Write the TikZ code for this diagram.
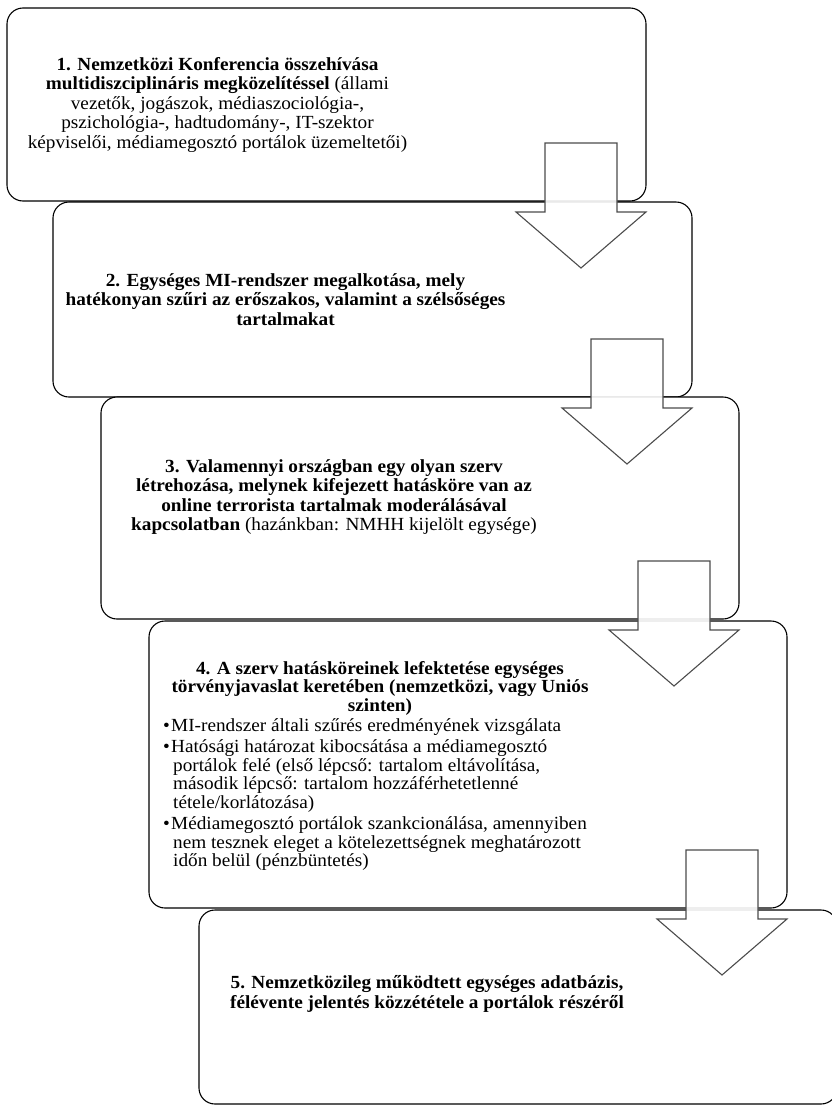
\documentclass[tikz,border=0pt]{standalone}
\usepackage{fontspec}
\setmainfont{Liberation Serif}[FakeStretch=1.04]

% bullet and hanging indent for the list in step 4
\newcommand{\bul}{\makebox[8pt][l]{\textbullet}}
\newcommand{\cont}{\hspace*{10pt}}
% big hollow down arrow hanging from the lower right corner of a step
\newcommand{\blockarrow}[1]{%
  \draw[downarrow] (#1.south east) ++(-29,-58) -- ++(0,69) -- ++(29,0)
    -- ++(-65,56) -- ++(-65,-56) -- ++(29,0) -- ++(0,-69) -- cycle;}

\begin{document}
\begin{tikzpicture}[x=1pt,y=-1pt,font=\fontsize{18.5}{19.5}\selectfont,
  stepbox/.style={draw=black,line width=1.1pt,rounded corners=16pt,fill=white,
    inner sep=0pt,outer sep=0pt,anchor=north west},
  steptext/.style={align=center,inner sep=0pt},
  downarrow/.style={draw=black!70,line width=1.1pt,fill=white,fill opacity=0.9}]

\clip (0,0) rectangle (832,1106);
\fill[white] (0,0) rectangle (832,1106);

    \node[stepbox,minimum width=639pt,minimum height=193pt] (b1) at (7,8) {};
    \node[stepbox,minimum width=639pt,minimum height=195pt,xshift=46pt,yshift=-1pt] (b2) at (b1.south west) {};
    \node[stepbox,minimum width=638pt,minimum height=222pt,xshift=48pt] (b3) at (b2.south west) {};
    \node[stepbox,minimum width=638pt,minimum height=287pt,xshift=48pt,yshift=-2pt] (b4) at (b3.south west) {};
    \node[stepbox,minimum width=638pt,minimum height=194pt,xshift=50pt,yshift=-2pt] (b5) at (b4.south west) {};

    \node[steptext,xshift=-109pt] (t1) at (b1.center)
      {\textbf{1. Nemzetközi Konferencia összehívása}\\
       \textbf{multidiszciplináris megközelítéssel} (állami\\
       vezetők, jogászok, médiaszociológia-,\\
       pszichológia-, hadtudomány-, IT-szektor\\
       képviselői, médiamegosztó portálok üzemeltetői)};
    \node[steptext,xshift=-87pt] (t2) at (b2.center)
      {\textbf{2. Egységes MI-rendszer megalkotása, mely}\\
       \textbf{hatékonyan szűri az erőszakos, valamint a szélsőséges}\\
       \textbf{tartalmakat}};
    \node[steptext,xshift=-86pt,yshift=11pt] (t3) at (b3.center)
      {\textbf{3. Valamennyi országban egy olyan szerv}\\
       \textbf{létrehozása, melynek kifejezett hatásköre van az}\\
       \textbf{online terrorista tartalmak moderálásával}\\
       \textbf{kapcsolatban} (hazánkban: NMHH kijelölt egysége)};
    \node[steptext,anchor=north,xshift=-88pt,yshift=-40pt,
          font=\fontsize{18.5}{18.5}\selectfont] (t4) at (b4.north)
      {\textbf{4. A szerv hatásköreinek lefektetése egységes}\\
       \textbf{törvényjavaslat keretében (nemzetközi, vagy Uniós}\\
       \textbf{szinten)}};
    \node[anchor=north west,align=left,inner sep=0pt,xshift=14pt,yshift=-3pt,
          font=\fontsize{18.5}{18.5}\selectfont] (l4) at (t4.south -| b4.west)
      {\bul MI-rendszer általi szűrés eredményének vizsgálata\\[3pt]
       \bul Hatósági határozat kibocsátása a médiamegosztó\\
       \cont portálok felé (első lépcső: tartalom eltávolítása,\\
       \cont második lépcső: tartalom hozzáférhetetlenné\\
       \cont tétele/korlátozása)\\[3pt]
       \bul Médiamegosztó portálok szankcionálása, amennyiben\\
       \cont nem tesznek eleget a kötelezettségnek meghatározott\\
       \cont időn belül (pénzbüntetés)};
    \node[steptext,xshift=-91pt,yshift=13pt] (t5) at (b5.center)
      {\textbf{5. Nemzetközileg működtett egységes adatbázis,}\\
       \textbf{félévente jelentés közzététele a portálok részéről}};

    \blockarrow{b1}
    \blockarrow{b2}
    \blockarrow{b3}
    \blockarrow{b4}

\end{tikzpicture}
\end{document}
